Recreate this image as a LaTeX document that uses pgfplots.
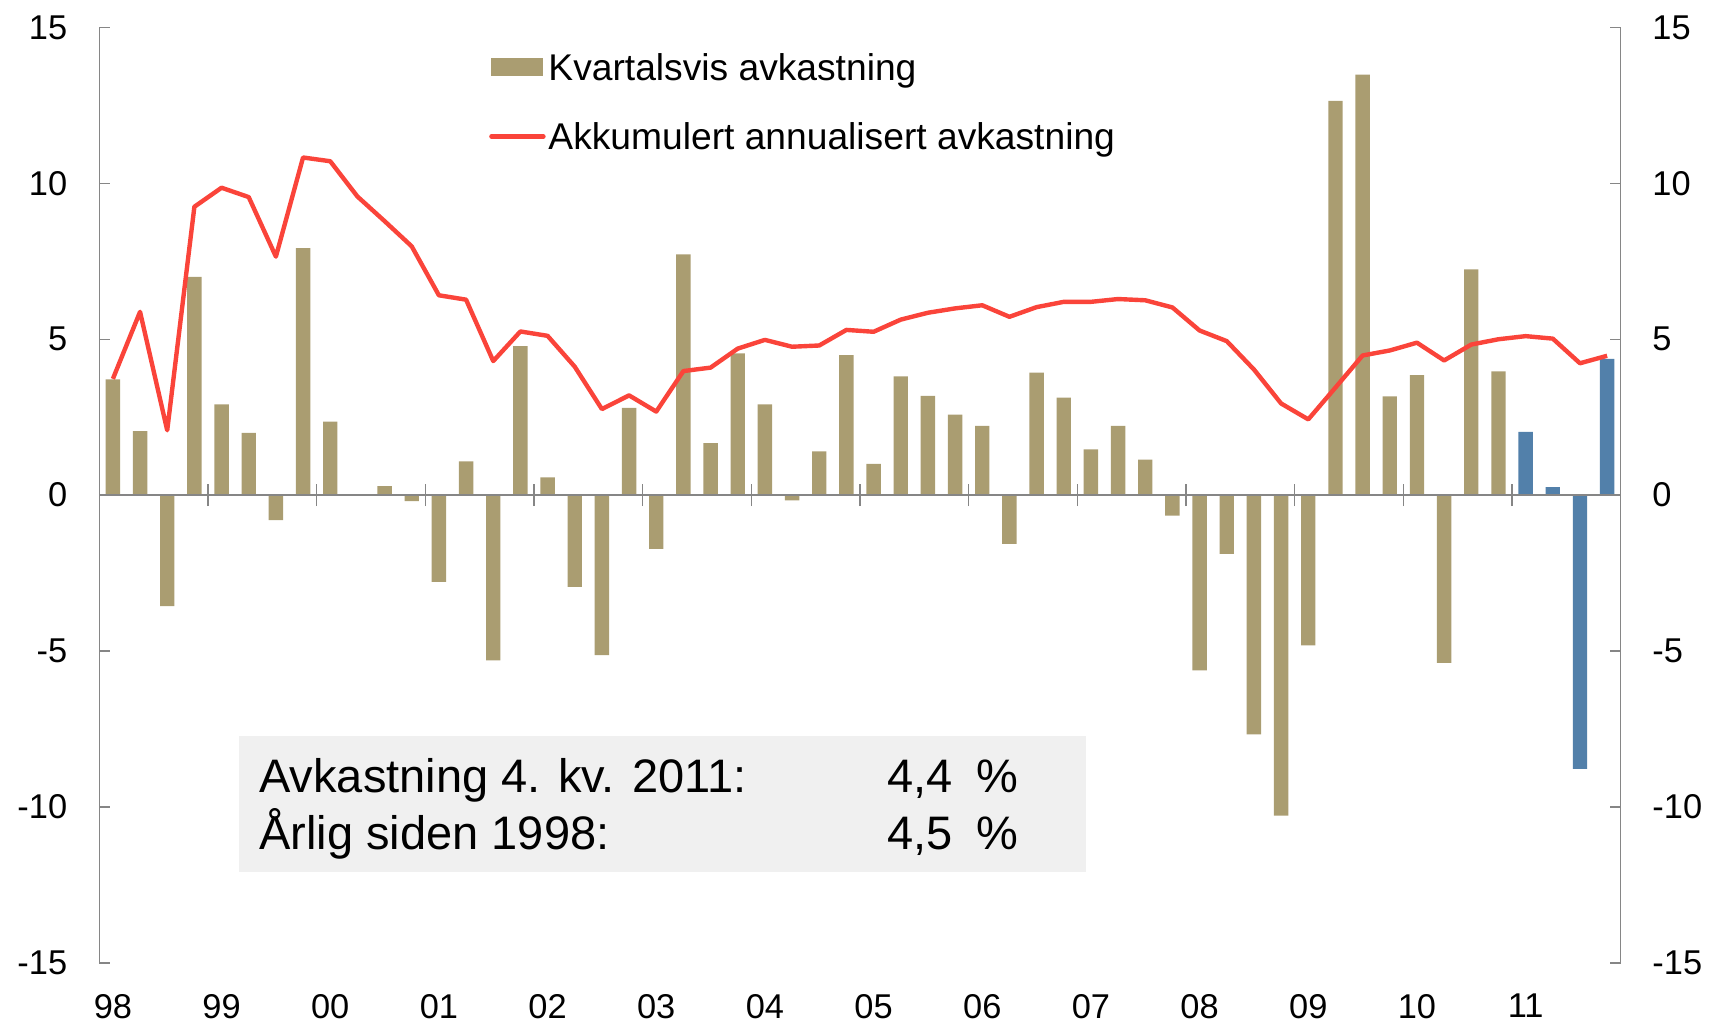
\documentclass[border=0pt]{standalone}
\usepackage{pgfplots}
\pgfplotsset{compat=1.18}
\usepackage{fontspec}
\setmainfont{Liberation Sans}
\definecolor{tanbar}{RGB}{170,157,113}
\definecolor{barblue}{RGB}{82,128,170}
\definecolor{linered}{RGB}{250,68,58}
\definecolor{axgray}{RGB}{134,134,134}
\definecolor{boxgray}{RGB}{240,240,240}
\newcommand{\tickfont}{\fontsize{17.2}{20}\selectfont}
\begin{document}
\begin{tikzpicture}
\pgfplotsset{
  common/.style={scale only axis, width=760.7pt, height=467.65pt,
    xmin=-0.5, xmax=55.5, ymin=-15, ymax=15,
    tick label style={font=\tickfont}},
}
\begin{axis}[common, name=main,
  axis y line*=left, axis x line*=bottom,
  x axis line style={draw=none},
  y axis line style={axgray, line width=0.75pt},
  xtick={0,4,...,52},
  xticklabels={98,99,00,01,02,03,04,05,06,07,08,09,10,11},
  xtick style={draw=none},
  xticklabel style={inner sep=0pt, anchor=north, yshift=-15.45pt},
  ytick={-15,-10,...,15}, yticklabels={-15,-10,-5,0,5,10,15},
  ytick style={axgray, line width=0.75pt},
  tick align=inside, major tick length=5.3pt,
  yticklabel style={inner sep=0pt, anchor=east, xshift=-15.85pt},
  legend style={at={(0.2563,0.9724)}, anchor=north west, draw=none, fill=none,
    inner sep=0pt, outer sep=0pt, row sep=19.6pt, column sep=0pt,
    font=\fontsize{18.6}{22}\selectfont, nodes={inner sep=0pt, outer sep=0pt}},
  legend cell align=left,
]
\fill[boxgray] (axis cs:4.645,-7.73) rectangle (axis cs:35.82,-12.075);
\addplot[ybar, bar width=0.53, bar shift=0pt, fill=tanbar, draw=none,
  legend image code/.code={\fill[tanbar] (0pt,-4pt) rectangle (26pt,5pt); \path (27.4pt,0pt);}]
coordinates {
(0,3.71) (1,2.05) (2,-3.56) (3,7.00) (4,2.91) (5,2.00) (6,-0.80) (7,7.92)
(8,2.36) (9,0.00) (10,0.29) (11,-0.19) (12,-2.78) (13,1.08) (14,-5.30) (15,4.78)
(16,0.57) (17,-2.94) (18,-5.13) (19,2.80) (20,-1.72) (21,7.72) (22,1.67) (23,4.55)
(24,2.91) (25,-0.17) (26,1.40) (27,4.49) (28,1.00) (29,3.81) (30,3.18) (31,2.58)
(32,2.22) (33,-1.56) (34,3.93) (35,3.13) (36,1.47) (37,2.22) (38,1.14) (39,-0.66)
(40,-5.62) (41,-1.88) (42,-7.67) (43,-10.28) (44,-4.82) (45,12.65) (46,13.49) (47,3.17)
(48,3.85) (49,-5.38) (50,7.24) (51,3.97)
};
\addlegendentry{Kvartalsvis avkastning}
\addplot[ybar, bar width=0.53, bar shift=0pt, fill=barblue, draw=none, forget plot]
coordinates {(52,2.03) (53,0.26) (54,-8.78) (55,4.37)};
\addplot[linered, line width=2.2pt, sharp plot, no marks, line join=round,
  legend image code/.code={\draw[linered, line width=2.2pt, line cap=round] (0pt,0.5pt) -- (26pt,0.5pt); \path (27.4pt,0pt);}]
coordinates {
(0,3.73) (1,5.88) (2,2.08) (3,9.25) (4,9.86) (5,9.56) (6,7.65) (7,10.83)
(8,10.71) (9,9.58) (10,8.79) (11,7.98) (12,6.41) (13,6.27) (14,4.30) (15,5.25)
(16,5.11) (17,4.12) (18,2.76) (19,3.20) (20,2.68) (21,3.98) (22,4.09) (23,4.70)
(24,4.98) (25,4.76) (26,4.80) (27,5.30) (28,5.24) (29,5.63) (30,5.85) (31,5.99)
(32,6.09) (33,5.72) (34,6.03) (35,6.20) (36,6.20) (37,6.29) (38,6.25) (39,6.02)
(40,5.28) (41,4.94) (42,4.03) (43,2.94) (44,2.43) (45,3.45) (46,4.48) (47,4.64)
(48,4.89) (49,4.32) (50,4.83) (51,5.00) (52,5.10) (53,5.02) (54,4.23) (55,4.47)
};
\addlegendentry{Akkumulert annualisert avkastning}
\node[anchor=base west, inner sep=0pt, font=\fontsize{23.5}{28}\selectfont] at (axis cs:5.38,-9.541) {Avkastning 4. kv. 2011:};
\node[anchor=base west, inner sep=0pt, font=\fontsize{23.5}{28}\selectfont] at (axis cs:5.38,-11.357) {Årlig siden 1998:};
\node[anchor=base west, inner sep=0pt, font=\fontsize{23.5}{28}\selectfont] at (axis cs:28.50,-9.541) {4,4};
\node[anchor=base west, inner sep=0pt, font=\fontsize{23.5}{28}\selectfont] at (axis cs:31.79,-9.541) {\%};
\node[anchor=base west, inner sep=0pt, font=\fontsize{23.5}{28}\selectfont] at (axis cs:28.50,-11.357) {4,5};
\node[anchor=base west, inner sep=0pt, font=\fontsize{23.5}{28}\selectfont] at (axis cs:31.79,-11.357) {\%};
\end{axis}
\begin{axis}[common,
  axis y line*=right, axis x line=none,
  y axis line style={axgray, line width=0.75pt},
  ytick={-15,-10,...,15}, yticklabels={-15,-10,-5,0,5,10,15},
  ytick style={axgray, line width=0.75pt},
  tick align=inside, major tick length=5.3pt,
  yticklabel style={inner sep=0pt, anchor=west, xshift=15.65pt},
]
\end{axis}
\begin{axis}[common,
  axis y line=none, axis x line=middle,
  x axis line style={axgray, line width=0.75pt, -},
  xtick={3.5,7.5,...,51.5}, xticklabels={},
  xtick style={axgray, line width=0.75pt},
  tick align=center, major tick length=11pt,
]
\end{axis}
\pgfresetboundingbox
\path ([shift={(-49.65pt,-31.1pt)}]main.south west) rectangle ([shift={(45.15pt,13.75pt)}]main.north east);
\end{tikzpicture}
\end{document}
